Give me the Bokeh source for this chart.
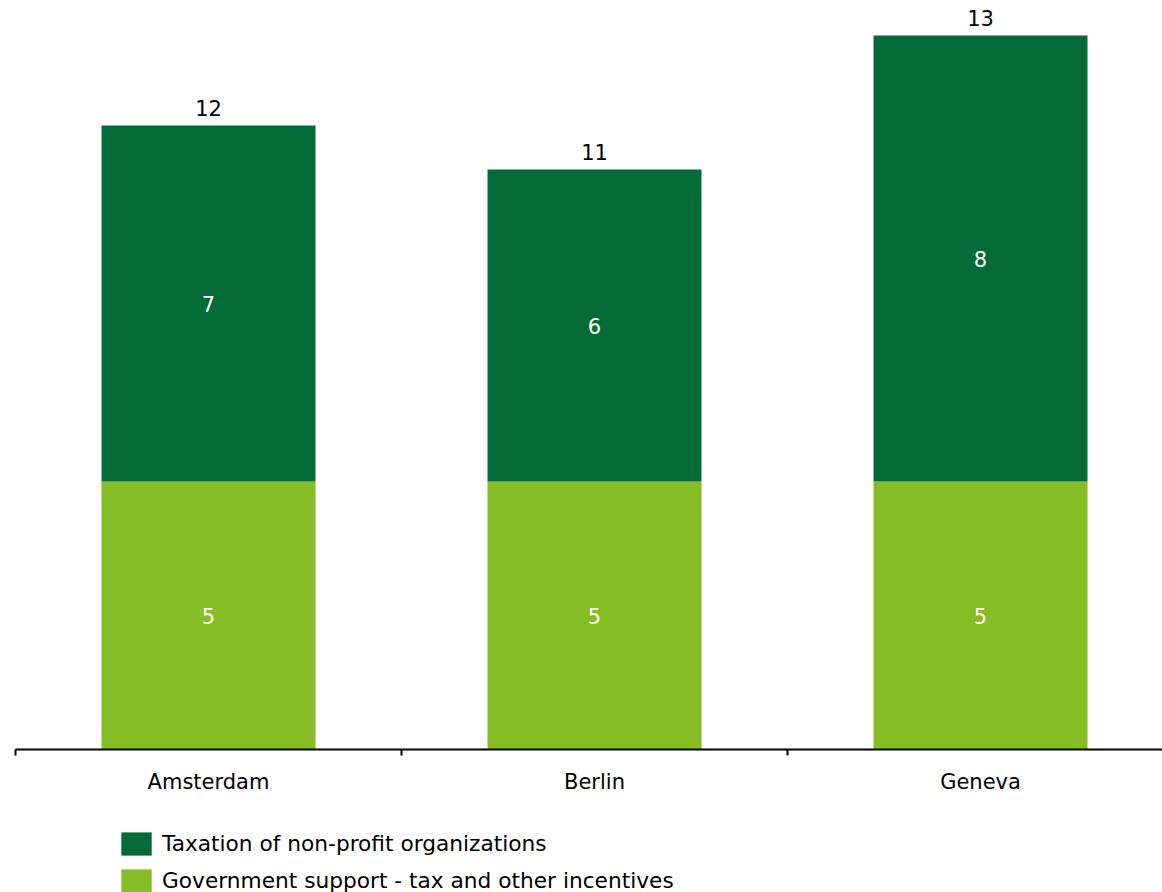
from bokeh.plotting import figure
from bokeh.layouts import column
from bokeh.models import (ColumnDataSource, Range1d, FixedTicker, Legend, LegendItem,
                          LabelSet)
from bokeh.core.properties import value
from bokeh.embed import file_html
from bokeh.resources import INLINE

# Data
cities = ["Amsterdam", "Berlin", "Geneva"]
government_support = [5.0, 5.0, 5.0]
taxation_nonprofit = [6.64, 5.82, 8.32]
series_names = ["Taxation of non-profit organizations",
                "Government support - tax and other incentives"]

DARK = "#046A38"
LIGHT = "#86BC25"
FONT = "DejaVu Sans"
FS = "21px"

n = len(cities)
xc = [i + 0.5 for i in range(n)]
totals = [a + b for a, b in zip(government_support, taxation_nonprofit)]

src = ColumnDataSource(dict(
    x=xc,
    gov_top=government_support,
    tot=totals,
    gov_mid=[g / 2 for g in government_support],
    tax_mid=[g + t / 2 for g, t in zip(government_support, taxation_nonprofit)],
    gov_lbl=[f"{round(v):d}" for v in government_support],
    tax_lbl=[f"{round(v):d}" for v in taxation_nonprofit],
    tot_lbl=[f"{round(v):d}" for v in totals],
))

p = figure(width=1162, height=820, output_backend="svg", toolbar_location=None,
           x_range=Range1d(0, 1147 / 386), y_range=Range1d(0, 749 / 53.6),
           min_border_left=15, min_border_right=0, min_border_top=0,
           min_border_bottom=71)
p.outline_line_color = None
p.grid.visible = False
p.yaxis.visible = False
p.background_fill_color = "white"
p.border_fill_color = "white"

w = 214 / 386
p.vbar(x="x", bottom=0, top="gov_top", width=w, source=src,
       fill_color=LIGHT, line_color=None)
p.vbar(x="x", bottom="gov_top", top="tot", width=w, source=src,
       fill_color=DARK, line_color=None)

for ycol, lbl, color, off in [("gov_mid", "gov_lbl", "white", 0),
                              ("tax_mid", "tax_lbl", "white", 0),
                              ("tot", "tot_lbl", "black", 18)]:
    ls = LabelSet(x="x", y=ycol, text=lbl, source=src, text_align="center",
                  text_baseline="middle", y_offset=off, text_color=color,
                  text_font=value(FONT), text_font_size=FS)
    p.add_layout(ls)

ax = p.xaxis[0]
ax.ticker = FixedTicker(ticks=xc, minor_ticks=[0, 1, 2])
ax.major_label_overrides = {x: c for x, c in zip(xc, cities)}
ax.major_tick_out = 0
ax.major_tick_in = 0
ax.minor_tick_out = 6
ax.minor_tick_in = 0
ax.minor_tick_line_color = "black"
ax.minor_tick_line_width = 2
ax.axis_line_color = "black"
ax.axis_line_width = 2
ax.major_label_text_font = FONT
ax.major_label_text_font_size = FS
ax.major_label_text_color = "black"
ax.major_label_standoff = 14

# Legend strip below the chart; its swatches come from the same bars,
# drawn outside the strip's visible range
lg = figure(width=1162, height=72, output_backend="svg", toolbar_location=None,
            x_range=Range1d(100, 101), y_range=Range1d(100, 101),
            x_axis_type=None, y_axis_type=None, min_border=0)
lg.outline_line_color = None
lg.grid.visible = False
lg.border_fill_color = "white"
lg.background_fill_color = "white"
r_tax = lg.vbar(x="x", bottom="gov_top", top="tot", width=w, source=src,
                fill_color=DARK, line_color=None)
r_gov = lg.vbar(x="x", bottom=0, top="gov_top", width=w, source=src,
                fill_color=LIGHT, line_color=None)

legend = Legend(items=[
    LegendItem(label=series_names[0], renderers=[r_tax]),
    LegendItem(label=series_names[1], renderers=[r_gov]),
], location=(102, -3), orientation="vertical", glyph_width=38, glyph_height=29,
    label_standoff=7, spacing=8, padding=0, margin=0, label_height=29,
    label_text_font=FONT, label_text_font_size="21.7px", label_text_color="black",
    label_text_baseline="middle",
    border_line_color=None, background_fill_alpha=0)
lg.add_layout(legend, "center")

open("out.html", "w").write(file_html(column(p, lg, spacing=0), INLINE))
